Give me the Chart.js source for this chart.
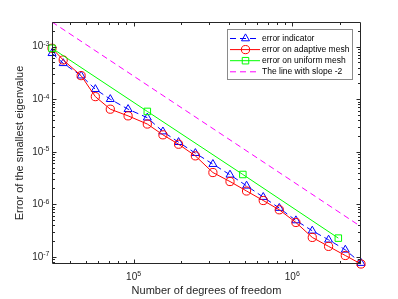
<!DOCTYPE html>
<html>
<head>
<meta charset="utf-8">
<script src="https://cdn.jsdelivr.net/npm/chart.js@4/dist/chart.umd.min.js"></script>
<style>
  html, body { margin: 0; padding: 0; background: #fff; }
</style>
</head>
<body>
<canvas id="c" width="398" height="299"></canvas>
<script>
// degrees of freedom of the adaptive meshes
const dofAdaptive = [30600, 36000, 46700, 57400, 71300, 92300, 122000, 153000, 192000, 245000,
  316000, 405000, 515000, 656000, 828000, 1054000, 1336000, 1693000, 2158000, 2710000]
const errIndicator = [7.5e-4, 4.83e-4, 2.81e-4, 1.55e-4, 1.0e-4, 6.46e-5, 4.45e-5, 2.42e-5, 1.52e-5, 9.4e-6,
  5.81e-6, 3.64e-6, 2.25e-6, 1.37e-6, 8.47e-7, 4.92e-7, 3.13e-7, 2.11e-7, 1.36e-7, 7.6e-8]
const errAdaptive = [9.33e-4, 5.58e-4, 2.81e-4, 1.12e-4, 6.46e-5, 4.82e-5, 3.37e-5, 2.1e-5, 1.39e-5, 8.35e-6,
  4.02e-6, 2.71e-6, 1.79e-6, 1.18e-6, 7.85e-7, 4.51e-7, 2.34e-7, 1.58e-7, 1.06e-7, 7.3e-8]
const dofUniform = [30600, 122000, 488000, 1950000]
const errUniform = [9.33e-4, 5.86e-5, 3.69e-6, 2.27e-7]
const dofSlope = [30600, 2710000]
const errSlope = [2.95e-3, 3.75e-7]

const xDecades = [5, 6]
const yDecades = [-7, -6, -5, -4, -3]
const xTitle = 'Number of degrees of freedom'
const yTitle = 'Error of the smallest eigenvalue'

const axisColor = '#262626'
const font = '"Liberation Sans", Arial, Helvetica, sans-serif'

const pts = (xs, ys) => xs.map((x, i) => ({ x: x, y: ys[i] }))

// minor + major tick values of a log axis between min and max
const logTicks = (min, max) => {
  const out = []
  for (let e = Math.floor(Math.log10(min)); e <= Math.ceil(Math.log10(max)); e++) {
    for (let m = 1; m < 10; m++) {
      const v = m * Math.pow(10, e)
      if (v >= min * 0.9999 && v <= max * 1.0001) out.push({ v: v, major: m === 1 })
    }
  }
  return out
}

const drawAxes = (chart) => {
  const ctx = chart.ctx
  const a = chart.chartArea
  const xs = chart.scales.x
  const ys = chart.scales.y
  const L = Math.round(a.left) + 0.5, R = Math.round(a.right) - 0.5
  const T = Math.round(a.top) + 0.5, B = Math.round(a.bottom) - 0.5

  ctx.save()
  ctx.strokeStyle = axisColor
  ctx.lineWidth = 1
  ctx.setLineDash([])
  ctx.beginPath()
  ctx.rect(L, T, R - L, B - T)
  ctx.stroke()

  // ticks pointing inward, on all four sides
  ctx.beginPath()
  logTicks(xs.min, xs.max).forEach(t => {
    const x = Math.round(xs.getPixelForValue(t.v)) + 0.5
    const len = t.major ? 4 : 2.5
    ctx.moveTo(x, B); ctx.lineTo(x, B - len)
    ctx.moveTo(x, T); ctx.lineTo(x, T + len)
  })
  logTicks(ys.min, ys.max).forEach(t => {
    const y = Math.round(ys.getPixelForValue(t.v)) + 0.5
    const len = t.major ? 4 : 2.5
    ctx.moveTo(L, y); ctx.lineTo(L + len, y)
    ctx.moveTo(R, y); ctx.lineTo(R - len, y)
  })
  ctx.stroke()

  // tick labels 10^n
  ctx.fillStyle = axisColor
  const big = '10px ' + font
  const small = '7px ' + font
  xDecades.forEach(d => {
    const x = xs.getPixelForValue(Math.pow(10, d))
    ctx.font = big
    const w1 = ctx.measureText('10').width
    ctx.font = small
    const w2 = ctx.measureText(String(d)).width
    const x0 = x - (w1 + w2) / 2
    ctx.font = big
    ctx.textBaseline = 'middle'
    ctx.textAlign = 'left'
    ctx.fillText('10', x0, B + 13.5)
    ctx.font = small
    ctx.textBaseline = 'alphabetic'
    ctx.fillText(String(d), x0 + w1, B + 12.5)
  })
  yDecades.forEach(d => {
    const y = ys.getPixelForValue(Math.pow(10, d))
    ctx.font = small
    const w2 = ctx.measureText(String(d)).width
    ctx.font = big
    const w1 = ctx.measureText('10').width
    const x0 = L - 3 - w1 - w2
    ctx.textBaseline = 'middle'
    ctx.textAlign = 'left'
    ctx.fillText('10', x0, y)
    ctx.font = small
    ctx.textBaseline = 'alphabetic'
    ctx.fillText(String(d), x0 + w1, y - 0.5)
  })

  // axis titles
  ctx.font = '11px ' + font
  ctx.textAlign = 'center'
  ctx.textBaseline = 'middle'
  ctx.fillText(xTitle, (L + R) / 2, B + 27.5)
  ctx.translate(20, (T + B) / 2)
  ctx.rotate(-Math.PI / 2)
  ctx.fillText(yTitle, 0, 0)
  ctx.restore()
}

const drawMarker = (ctx, style, x, y, r) => {
  Chart.helpers.drawPoint(ctx, { pointStyle: style, radius: r, rotation: 0, borderWidth: 1 }, x, y)
}

const drawLegend = (chart) => {
  const ctx = chart.ctx
  const a = chart.chartArea
  const bx = Math.round(a.right) - 133.5, by = Math.round(a.top) + 7.5
  const bw = 125, bh = 50
  ctx.save()
  ctx.fillStyle = '#ffffff'
  ctx.fillRect(bx, by, bw, bh)
  ctx.strokeStyle = '#8a8a8a'
  ctx.lineWidth = 1
  ctx.setLineDash([])
  ctx.strokeRect(bx, by, bw, bh)
  ctx.font = '8.5px ' + font
  ctx.textBaseline = 'middle'
  ctx.textAlign = 'left'
  chart.data.datasets.forEach((ds, i) => {
    const y = by + 9 + i * 11.1
    ctx.strokeStyle = ds.borderColor
    ctx.setLineDash(ds.borderDash || [])
    ctx.beginPath()
    ctx.moveTo(bx + 2.5, y)
    ctx.lineTo(bx + 32.5, y)
    ctx.stroke()
    ctx.setLineDash([])
    if (ds.pointRadius > 0) {
      ctx.fillStyle = 'rgba(0,0,0,0)'
      drawMarker(ctx, ds.pointStyle, bx + 18, y, ds.pointRadius)
    }
    ctx.fillStyle = '#000000'
    ctx.fillText(ds.label, bx + 34.5, y)
  })
  ctx.restore()
}

new Chart(document.getElementById('c'), {
  type: 'line',
  data: {
    datasets: [
      {
        label: 'error indicator',
        data: pts(dofAdaptive, errIndicator),
        borderColor: '#0000ff',
        borderDash: [6, 4],
        borderWidth: 1,
        pointStyle: 'triangle',
        pointRadius: 4.6,
        pointBorderColor: '#0000ff',
        pointBackgroundColor: 'rgba(0,0,0,0)',
        pointBorderWidth: 1,
        clip: false,
        order: 4
      },
      {
        label: 'error on adaptive mesh',
        data: pts(dofAdaptive, errAdaptive),
        borderColor: '#ff0000',
        borderWidth: 1,
        pointStyle: 'circle',
        pointRadius: 4.1,
        pointBorderColor: '#ff0000',
        pointBackgroundColor: 'rgba(0,0,0,0)',
        pointBorderWidth: 1,
        clip: false,
        order: 3
      },
      {
        label: 'error on uniform mesh',
        data: pts(dofUniform, errUniform),
        borderColor: '#00ff00',
        borderWidth: 1,
        pointStyle: 'rect',
        pointRadius: 4.6,
        pointBorderColor: '#00ff00',
        pointBackgroundColor: 'rgba(0,0,0,0)',
        pointBorderWidth: 1,
        clip: false,
        order: 2
      },
      {
        label: 'The line with slope -2',
        data: pts(dofSlope, errSlope),
        borderColor: '#ff00ff',
        borderDash: [6, 4],
        borderWidth: 1,
        pointRadius: 0,
        order: 1
      }
    ]
  },
  options: {
    responsive: false,
    animation: false,
    devicePixelRatio: 1,
    layout: { padding: { top: 22, right: 37, left: 0, bottom: 0 } },
    plugins: {
      legend: { display: false },
      tooltip: { enabled: false }
    },
    elements: { line: { tension: 0 } },
    scales: {
      x: {
        type: 'logarithmic',
        min: dofAdaptive[0],
        max: dofAdaptive[dofAdaptive.length - 1],
        grid: { display: false },
        border: { display: false },
        ticks: { display: false },
        afterFit: (s) => { s.height = 35 }
      },
      y: {
        type: 'logarithmic',
        min: errAdaptive[errAdaptive.length - 1],
        max: errSlope[0],
        grid: { display: false },
        border: { display: false },
        ticks: { display: false },
        afterFit: (s) => { s.width = 52 }
      }
    }
  },
  plugins: [{ id: 'matlabAxes', afterDatasetsDraw: (chart) => { drawAxes(chart); drawLegend(chart) } }]
})
</script>
</body>
</html>
